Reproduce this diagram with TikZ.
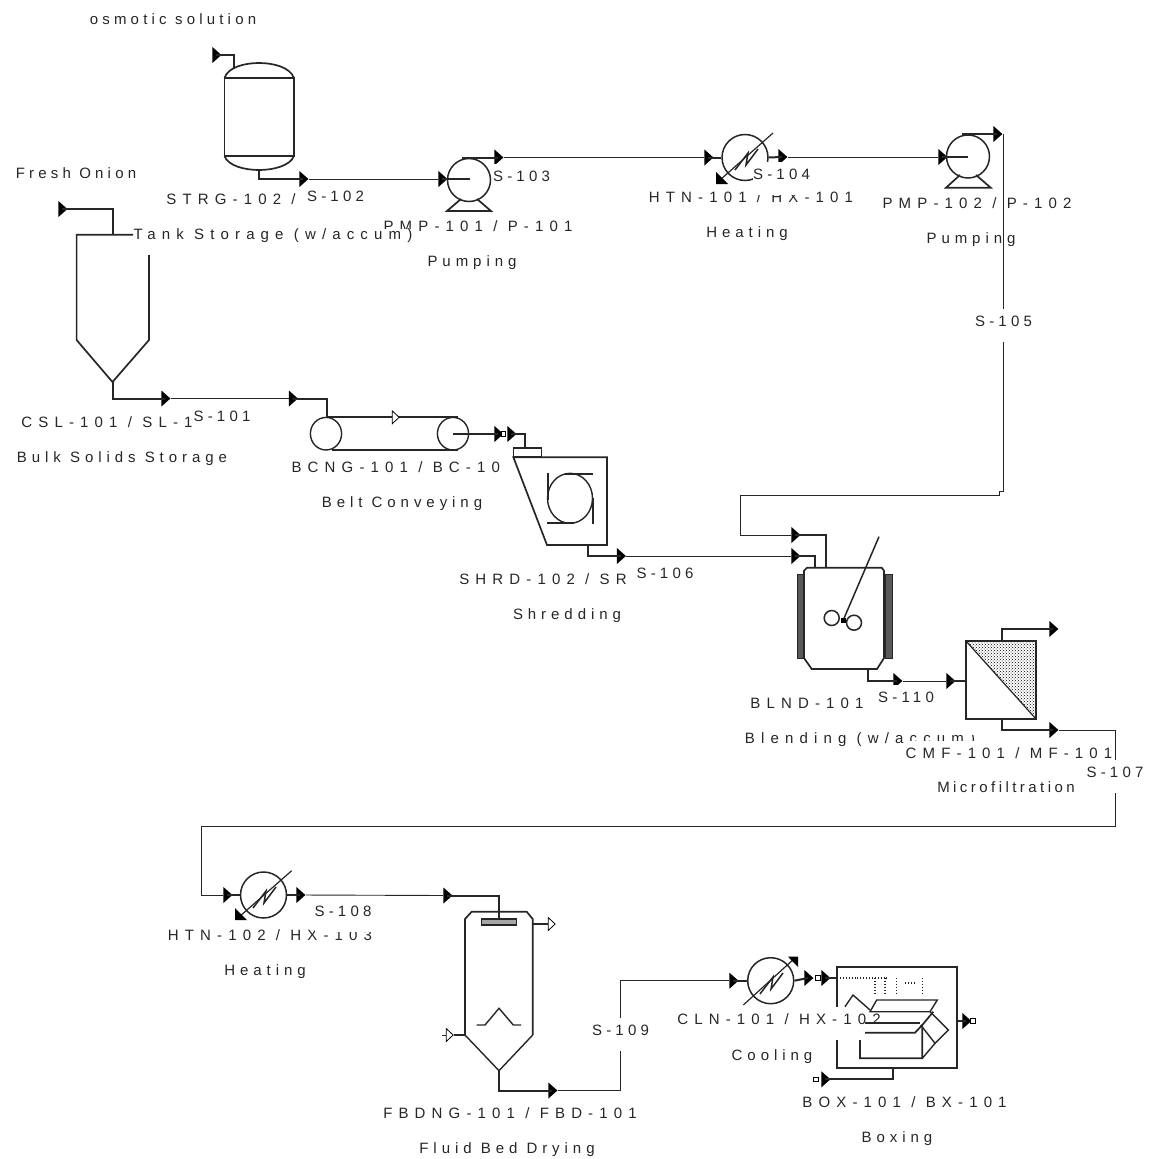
\documentclass[tikz,border=0pt]{standalone}
\usepackage{fontspec}
\setmainfont[LetterSpace=33]{Liberation Sans}
\newfontfamily\idface[LetterSpace=41]{Liberation Sans}
\newfontfamily\strface[LetterSpace=28]{Liberation Sans}
\newfontfamily\tightface[LetterSpace=23]{Liberation Sans}
\usetikzlibrary{shapes.geometric, positioning, patterns}

\begin{document}
\begin{tikzpicture}[
    x=1pt, y=-1pt,
    tag/.style={font=\fontsize{15}{18}\selectfont, text=black!85, anchor=base, fill=white,
                inner xsep=0pt, inner ysep=0pt, text height=17pt, text depth=16pt},
    idtag/.style={tag, font=\fontsize{15}{18}\idface},
    strtag/.style={tag, font=\fontsize{15}{18}\strface},
    plain/.style={font=\fontsize{15}{18}\strface, text=black!85, anchor=base, inner sep=0pt},
    tipb/.style={isosceles triangle, isosceles triangle stretches, shape border rotate=0,
                 fill=black, inner sep=0pt, minimum width=16pt, minimum height=9pt},
    tipw/.style={tipb, fill=white, draw=black, line width=0.8pt, minimum width=13pt, minimum height=7pt},
    sqport/.style={rectangle, draw=black, fill=white, line width=1pt, inner sep=0pt, minimum size=4.5pt},
    stub/.style={line width=2pt, color=black!85},
    stream/.style={line width=0.9pt, color=black!85},
    unit/.style={line width=1.7pt, color=black!85},
    wheel/.style={circle, draw=black!85, line width=1.5pt, inner sep=0pt, minimum size=43pt},
    mask/.style={fill=white}
]
\useasboundingbox (0,0) rectangle (1157,1159);

\node[plain] (osmotic) at (173,24) {osmotic solution};
\node[plain] (fresh) at (76,178) {Fresh Onion};

% storage tanks
\draw[unit] (224.5,78) rectangle (294,156);
\draw[unit] (224.5,78) .. controls (228,67) and (245,63) .. (259,63) .. controls (273,63) and (290,67) .. (294,78);
\draw[unit] (224.5,156) .. controls (228,166) and (245,170) .. (259,170) .. controls (273,170) and (290,166) .. (294,156);
\draw[unit] (133,234.7) -- (76.6,234.7) -- (76.6,340) -- (112.5,382) -- (149,340) -- (149,250);

% pumps
\node[wheel] (pmpa) at (469,180) {};
\draw[unit] (461,199) -- (447,211) -- (491,211) -- (477,199);
\node[wheel] (pmpb) at (968,156.5) {};
\draw[unit] (960,175) -- (946,187.7) -- (990.7,187.7) -- (976,175);

% exchangers
\node[wheel, minimum size=46pt] (htna) at (745,157.5) {};
\draw[stream, line width=1.2pt] (773,133) -- (720,180);
\fill[black] (716,184) -- (716,172) -- (728,184) -- cycle;
\draw[stream, line width=1.5pt] (735,170) -- (748,153) -- (746,165) -- (758,149);
\node[wheel, minimum size=46pt] (htnb) at (263.5,895) {};
\draw[stream, line width=1.2pt] (291.7,870.7) -- (239,917);
\fill[black] (235,920) -- (235,908) -- (247,920) -- cycle;
\draw[stream, line width=1.5pt] (253,908) -- (266,891) -- (264,903) -- (276,887);
\node[wheel, minimum size=46pt] (clna) at (770.7,980.7) {};
\draw[stream, line width=1.2pt] (743.3,1005) -- (795,958);
\fill[black] (788,956.7) -- (798,956.7) -- (798,967) -- cycle;
\draw[stream, line width=1.5pt] (760,994) -- (773,977) -- (771,989) -- (783,973);

% unit labels, first batch
\node[idtag] (pmpalab) at (478,231) {PMP-101 / P-101};
\node[idtag] (strglab) at (231,204) {STRG-102 /};
\node[idtag, text height=10pt] (strgtxt) at (273,239) {Tank Storage (w/accum)};
\node[tag] (pmpatxt) at (472,266) {Pumping};
\node[idtag] (htnalab) at (751,202) {HTN-101 / HX-101};
\node[tag] (htnatxt) at (747,237) {Heating};
\node[idtag] (pmpblab) at (977,208) {PMP-102 / P-102};
\node[tag] (pmpbtxt) at (971,243) {Pumping};
\node[idtag] (csllab) at (107,427) {CSL-101 / SL-1};
\node[tag] (csltxt) at (122,462) {Bulk Solids Storage};
\node[idtag] (bcnglab) at (403,472) {BCNG-101 / BC-101};
\node[tag] (bcngtxt) at (402,507) {Belt Conveying};
\node[idtag] (shrdlab) at (543,584) {SHRD-102 / SR};
\node[tag] (shrdtxt) at (567,619) {Shredding};
\node[idtag] (blndlab) at (807,708) {BLND-101};
\node[idtag] (blndtxt) at (860,743) {Blending (w/accum)};

% conveyor
\draw[line width=1.4pt, color=black!85] (326,433.7) ellipse (15.6 and 16.3);
\draw[line width=1.4pt, color=black!85] (453,433.7) ellipse (15.6 and 16.3);
\draw[unit] (326,417.3) -- (458,417.3);
\draw[unit] (332,450) -- (458,450);
\node[tipw] (belt) at (395,417.3) {};

% shredder
\fill[mask] (500,445) rectangle (610,550);
\draw[unit] (513.4,448.3) rectangle (541.5,457.3);
\draw[unit] (513.4,457.3) -- (607,457.3) -- (607,545) -- (547,545) -- cycle;
\draw[line width=1.4pt, color=black!85] (570,498.3) ellipse (22.5 and 25);
\draw[unit] (564.7,474) -- (592.8,474);
\draw[unit] (547.8,473) -- (547.8,500);
\draw[unit] (547,523.3) -- (573.7,523.3);
\draw[unit] (592.8,498) -- (592.8,524);

% blender
\draw[fill=black!65, draw=black!85, line width=1pt] (797.3,574) rectangle (804,658);
\draw[fill=black!65, draw=black!85, line width=1pt] (885,574) rectangle (892,658);
\draw[unit] (807,567.7) -- (881.7,567.7) -- (884,570.7) -- (884,658) -- (877,669) -- (811.7,669) -- (804,658) -- (804,570.7) -- cycle;
\draw[stream, line width=1.5pt] (879,536.7) -- (843.3,620);
\node[circle, draw=black!85, line width=1.5pt, minimum size=15pt, inner sep=0pt] (impa) at (831.7,618) {};
\node[circle, draw=black!85, line width=1.5pt, minimum size=15pt, inner sep=0pt] (impb) at (854,622.7) {};
\fill[black] (841,618) rectangle (846,623);

% microfilter
\fill[mask] (945,625) rectangle (1060,735);
\fill[pattern=crosshatch dots] (965.7,640.7) -- (1036,640.7) -- (1036,719) -- cycle;
\draw[unit] (965.7,640.7) rectangle (1036,719);
\draw[stream, line width=1.2pt] (965.7,640.7) -- (1036,719);

% dryer
\draw[unit] (465,1035) -- (465,919) -- (471.7,911.7) -- (526.7,911.7) -- (532.7,919) -- (532.7,1035);
\draw[stream, line width=1.4pt] (465,1035) -- (499,1070.7) -- (532.7,1035);
\draw[line width=1.4pt, color=black!85, fill=black!35] (481.7,919) rectangle (516.7,925);
\draw[stream, line width=1.4pt] (476.7,1025) -- (485,1025) -- (499,1008.3) -- (513.3,1025) -- (521,1025);

% carton box, outer frame
\draw[unit] (836.7,966.7) rectangle (956.7,1068.3);
\node[idtag] (clnlab) at (779,1024) {CLN-101 / HX-102};
\draw[stream, dotted, line width=1.4pt] (840,978) -- (888,978);
\foreach \xdot in {875,885,896.7,922.3} {
    \draw[stream, dotted, line width=1.4pt] (\xdot,978) -- (\xdot,993);
}
\draw[stream, dotted, line width=1.4pt] (905,983) -- (915,983);
\draw[unit, line width=1.4pt] (845,1006.7) -- (853,995) -- (870,1010);
\draw[unit, line width=1.4pt] (876.7,1000) -- (937.3,1000) -- (930,1011.7) -- (870,1011.7) -- cycle;
\draw[unit] (865,1022.7) -- (920,1022.7);
\draw[unit] (865,1032.7) -- (915,1032.7) -- (922.3,1025);
\draw[unit] (860,1040) -- (860,1058.3) -- (922.3,1058.3) -- (922.3,1025) -- (933.3,1011.7);
\draw[stream, line width=1.4pt] (930,1011.7) -- (948.3,1030) -- (935,1043.3) -- (920.7,1025);
\draw[stream, line width=1.4pt] (935,1043.3) -- (922.3,1058.3);

% stream end tips
\node[tipb] (tipfeed) at (216,55) {};
\node[tipb] (tipfresh) at (62,209) {};
\node[tipb] (tipsa) at (165,398.5) {};
\node[tipb] (tipsb) at (292.5,398.5) {};
\node[tipb] (tipsc) at (303,179) {};
\node[tipb] (tipsd) at (442,179) {};
\node[tipb] (tipse) at (498,157.5) {};
\node[tipb] (tipsf) at (708,157.5) {};
\node[tipb] (tipsg) at (782,157) {};
\node[tipb] (tipsh) at (942,157) {};
\node[tipb] (tipsi) at (997,134) {};
\node[tipb] (tipsj) at (795,535) {};
\node[tipb] (tipsk) at (620.5,556) {};
\node[tipb] (tipsl) at (795,556) {};
\node[tipb] (tipsm) at (498,434) {};
\node[sqport] (sqbc) at (503.5,434) {};
\node[tipb] (tipsn) at (511,434) {};
\node[tipb] (tipso) at (897,681) {};
\node[tipb] (tipsp) at (950,681) {};
\node[tipb] (tipsq) at (1053,629) {};
\node[tipb] (tipsr) at (1053,730) {};
\node[tipb] (tipss) at (227,895) {};
\node[tipb] (tipst) at (300,895) {};
\node[tipb] (tipsu) at (447,895.5) {};
\node[tipw] (tipvent) at (551,924) {};
\node[tipw] (tipair) at (449,1035) {};
\node[tipb] (tipsv) at (552,1090.5) {};
\node[tipb] (tipsw) at (733,980.7) {};
\node[tipb] (tipsx) at (808,978) {};
\node[sqport] (sqboxa) at (818,978) {};
\node[tipb] (tipsy) at (825,978) {};
\node[tipb] (tipsz) at (966,1021) {};
\node[sqport] (sqboxb) at (973,1021) {};
\node[sqport] (sqboxc) at (816,1079.3) {};
\node[tipb] (tipcard) at (825,1079.3) {};

% thick stubs
\draw[stub] (tipfeed.center) -| (234,69);
\draw[stub] (259,170) |- (tipsc.center);
\draw[stub] (tipfresh.center) -| (112.5,234.7);
\draw[stub] (112.5,382) |- (tipsa.center);
\draw[stub] (tipsb.center) -| (326.8,417.3);
\draw[stub] (tipsd.center) -- (470,179);
\draw[stub] (462,157.5) -- (tipse.center);
\draw[stub] (tipsf.center) -- (htna.west);
\draw[stub] (htna.east) -- (tipsg.center);
\draw[stub] (tipsh.center) -- (968,157);
\draw[stub] (961.7,134) -- (tipsi.center);
\draw[stub] (453,434) -- (tipsm.center);
\draw[stub] (tipsn.center) -| (524.5,448.3);
\draw[stub] (588,545) |- (tipsk.center);
\draw[stub] (tipsj.center) -| (825.7,567.7);
\draw[stub] (tipsl.center) -| (815,567.7);
\draw[stub] (867.7,669) |- (tipso.center);
\draw[stub] (tipsp.center) -- (965.7,681);
\draw[stub] (1001.7,640.7) |- (tipsq.center);
\draw[stub] (1001.7,719) |- (tipsr.center);
\draw[stub] (tipss.center) -- (htnb.west);
\draw[stub] (htnb.east) -- (tipst.center);
\draw[stub] (tipsu.center) -| (499,919);
\draw[stub] (532.7,924) -- (tipvent.west);
\draw[stub] (tipair.east) -- (465,1035);
\draw[stream] (442,1035) -- (tipair.west);
\draw[stub] (499,1070.7) |- (tipsv.center);
\draw[stub] (tipsw.center) -- (clna.west);
\draw[stub] (clna.east) -- (tipsx.center);
\draw[stub] (tipsy.center) -- (836.7,978);
\draw[stub] (956.7,1021) -- (tipsz.center);
\draw[stub] (tipcard.center) -| (892.7,1068.3);

% thin streams
\draw[stream] (tipsa) -- (tipsb);
\draw[stream] (tipsc) -- (tipsd);
\draw[stream] (tipse) -- (tipsf);
\draw[stream] (tipsg) -- (tipsh);
\draw[stream] (tipsi) -| (1003.5,491.7) -- (999,491.7) |- (740.7,495) |- (tipsj);
\draw[stream] (tipsk) -- (tipsl);
\draw[stream] (tipso) -- (tipsp);
\draw[stream] (tipsr) -| (1115,826) -| (201,895) -- (tipss);
\draw[stream] (tipst) -- (tipsu);
\draw[stream] (tipsv) -| (620,980.7) -- (tipsw);

% unit labels, second batch
\node[idtag] (cmflab) at (1009,758) {CMF-101 / MF-101};
\node[tag, font=\fontsize{15}{18}\tightface] (cmftxt) at (1006,792) {Microfiltration};
\node[idtag] (htnblab) at (270,940) {HTN-102 / HX-103};
\node[tag] (htnbtxt) at (265,975) {Heating};
\node[idtag] (fbdlab) at (510,1118) {FBDNG-101 / FBD-101};
\node[tag] (fbdtxt) at (507,1153) {Fluid Bed Drying};
\node[tag] (clntxt) at (772,1060) {Cooling};
\node[idtag] (boxlab) at (904.5,1107) {BOX-101 / BX-101};
\node[tag] (boxtxt) at (897,1142) {Boxing};

% stream labels
\node[strtag] (sa) at (222,421) {S-101};
\node[strtag] (sb) at (335.5,201) {S-102};
\node[strtag] (sc) at (521.5,181) {S-103};
\node[strtag] (sd) at (781.5,179) {S-104};
\node[strtag] (se) at (1003.5,326) {S-105};
\node[strtag] (sf) at (665,578) {S-106};
\node[strtag] (sg) at (1115,777) {S-107};
\node[strtag] (sh) at (343,916) {S-108};
\node[strtag] (si) at (620.5,1035) {S-109};
\node[strtag] (sj) at (906,702) {S-110};
\end{tikzpicture}
\end{document}
